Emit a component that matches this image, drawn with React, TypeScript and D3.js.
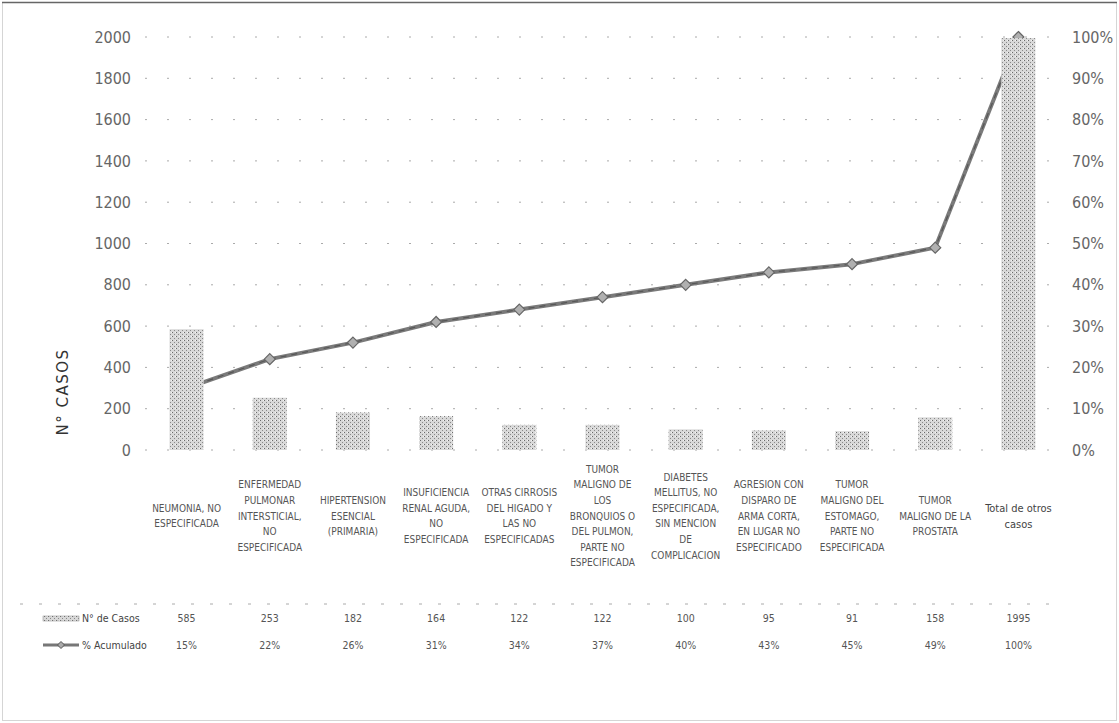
import React from "react";
import * as d3 from "d3";

const categories: string[][] = [
  ["NEUMONIA, NO", "ESPECIFICADA"],
  ["ENFERMEDAD", "PULMONAR", "INTERSTICIAL,", "NO", "ESPECIFICADA"],
  ["HIPERTENSION", "ESENCIAL", "(PRIMARIA)"],
  ["INSUFICIENCIA", "RENAL AGUDA,", "NO", "ESPECIFICADA"],
  ["OTRAS CIRROSIS", "DEL HIGADO Y", "LAS NO", "ESPECIFICADAS"],
  ["TUMOR", "MALIGNO DE", "LOS", "BRONQUIOS O", "DEL PULMON,", "PARTE NO", "ESPECIFICADA"],
  ["DIABETES", "MELLITUS, NO", "ESPECIFICADA,", "SIN MENCION", "DE", "COMPLICACION"],
  ["AGRESION CON", "DISPARO DE", "ARMA CORTA,", "EN LUGAR NO", "ESPECIFICADO"],
  ["TUMOR", "MALIGNO DEL", "ESTOMAGO,", "PARTE NO", "ESPECIFICADA"],
  ["TUMOR", "MALIGNO DE LA", "PROSTATA"],
  ["Total de otros", "casos"],
];

const casos: number[] = [585, 253, 182, 164, 122, 122, 100, 95, 91, 158, 1995];
const acumulado: number[] = [15, 22, 26, 31, 34, 37, 40, 43, 45, 49, 100];

const leftTicks: number[] = [0, 200, 400, 600, 800, 1000, 1200, 1400, 1600, 1800, 2000];
const rightTicks: number[] = [0, 10, 20, 30, 40, 50, 60, 70, 80, 90, 100];

const seriesNames = ["N° de Casos", "% Acumulado"];
const yTitle = "N° CASOS";

const W = 1119;
const H = 723;

export default function App() {
  const ids = categories.map((_, i) => String(i));
  const x = d3
    .scaleBand<string>()
    .domain(ids)
    .range([145, 1060])
    .paddingInner(0.59)
    .paddingOuter(0.295);
  const y = d3.scaleLinear().domain([0, 2000]).range([450, 37]);
  const y2 = d3.scaleLinear().domain([0, 100]).range([450, 37]);
  const cx = (i: number) => (x(String(i)) as number) + x.bandwidth() / 2;

  const line = d3
    .line<number>()
    .x((_, i) => cx(i))
    .y((d) => y2(d));

  const labelFont = "'Liberation Sans Narrow', 'DejaVu Sans Condensed', 'Arial Narrow', sans-serif";
  const tickFont = "'Liberation Sans Narrow', 'DejaVu Sans Condensed', sans-serif";
  const lh = 15.6;
  const labelCenter = 516;
  const row1 = 618;
  const row2 = 645;

  const diamond = (px: number, py: number, r: number) =>
    `M${px},${py - r}L${px + r},${py}L${px},${py + r}L${px - r},${py}Z`;

  return (
    <svg
      width={W}
      height={H}
      style={{ position: "absolute", left: 0, top: 0, background: "#fff" }}
    >
      <defs>
        <pattern id="stip" width="4" height="4" patternUnits="userSpaceOnUse">
          <rect width="4" height="4" fill="#d8d8d8" />
          <rect x="0" y="0" width="1" height="1" fill="#6a6a6a" />
          <rect x="2" y="2" width="1" height="1" fill="#8a8a8a" />
          <rect x="3" y="0" width="1" height="1" fill="#f4f4f4" />
        </pattern>
      </defs>
      <rect x={2.5} y={2.5} width={W - 5} height={H - 5} fill="none" stroke="#aaa" strokeDasharray="1,1" />
      <line x1={2} x2={W - 2} y1={2.5} y2={2.5} stroke="#666" strokeWidth={1.5} />

      {/* gridlines */}
      {leftTicks.map((t) => (
        <line
          key={"g" + t}
          x1={145}
          x2={1060}
          y1={y(t)}
          y2={y(t)}
          stroke="#aaa"
          strokeWidth={1}
          strokeDasharray="2,20"
        />
      ))}

      {/* left axis */}
      {leftTicks.map((t) => (
        <text
          key={"l" + t}
          x={131}
          y={y(t)}
          dy="0.35em"
          textAnchor="end"
          fontFamily={tickFont}
          fontSize={16}
          fill="#666"
        >
          {t}
        </text>
      ))}
      {/* right axis */}
      {rightTicks.map((t) => (
        <text
          key={"r" + t}
          x={1072}
          y={y2(t)}
          dy="0.35em"
          textAnchor="start"
          fontFamily={tickFont}
          fontSize={16}
          fill="#666"
        >
          {t + "%"}
        </text>
      ))}
      <text
        transform={`translate(68,392) rotate(-90)`}
        textAnchor="middle"
        fontFamily="'DejaVu Sans', sans-serif"
        fontSize={15}
        letterSpacing={1.5}
        fill="#333"
      >
        {yTitle}
      </text>

      {/* cumulative line (drawn under bars) */}
      <path d={line(acumulado) || ""} fill="none" stroke="#7a7a7a" strokeWidth={4} strokeLinejoin="round" />
      <path d={line(acumulado) || ""} fill="none" stroke="#333" strokeWidth={1.2} strokeDasharray="6,5" opacity={0.5} />
      {acumulado.map((v, i) => (
        <path key={"m" + i} d={diamond(cx(i), y2(v), 5.5)} fill="#b0b0b0" stroke="#666" strokeWidth={1.2} />
      ))}

      {/* bars */}
      {casos.map((v, i) => (
        <rect
          key={"b" + i}
          x={x(String(i))}
          y={y(v)}
          width={x.bandwidth()}
          height={y(0) - y(v)}
          fill="url(#stip)"
        />
      ))}

      {/* category labels */}
      {categories.map((lines, i) => {
        const last = i === categories.length - 1;
        const top = labelCenter - ((lines.length - 1) * lh) / 2;
        return (
          <text
            key={"c" + i}
            textAnchor="middle"
            fontFamily={labelFont}
            fontSize={last ? 11 : 10}
            fill={last ? "#444" : "#555"}
          >
            {lines.map((ln, j) => (
              <tspan key={j} x={cx(i)} y={top + j * lh} dy="0.35em">
                {ln}
              </tspan>
            ))}
          </text>
        );
      })}

      {/* data table */}
      <line x1={20} x2={1060} y1={604} y2={604} stroke="#aaa" strokeDasharray="3,16" />
      <rect x={43} y={616} width={36} height={5} fill="url(#stip)" stroke="#888" strokeWidth={0.5} />
      <text x={82} y={row1} dy="0.35em" fontFamily={labelFont} fontSize={10.5} fill="#444">
        {seriesNames[0]}
      </text>
      <line x1={43} x2={79} y1={row2} y2={row2} stroke="#777" strokeWidth={3} />
      <path d={diamond(61, row2, 3.5)} fill="#aaa" stroke="#555" strokeWidth={1} />
      <text x={82} y={row2} dy="0.35em" fontFamily={labelFont} fontSize={10.5} fill="#444">
        {seriesNames[1]}
      </text>
      {casos.map((v, i) => (
        <text
          key={"t1" + i}
          x={cx(i)}
          y={row1}
          dy="0.35em"
          textAnchor="middle"
          fontFamily={labelFont}
          fontSize={10.5}
          fill="#555"
        >
          {v}
        </text>
      ))}
      {acumulado.map((v, i) => (
        <text
          key={"t2" + i}
          x={cx(i)}
          y={row2}
          dy="0.35em"
          textAnchor="middle"
          fontFamily={labelFont}
          fontSize={10.5}
          fill="#555"
        >
          {v + "%"}
        </text>
      ))}
    </svg>
  );
}
